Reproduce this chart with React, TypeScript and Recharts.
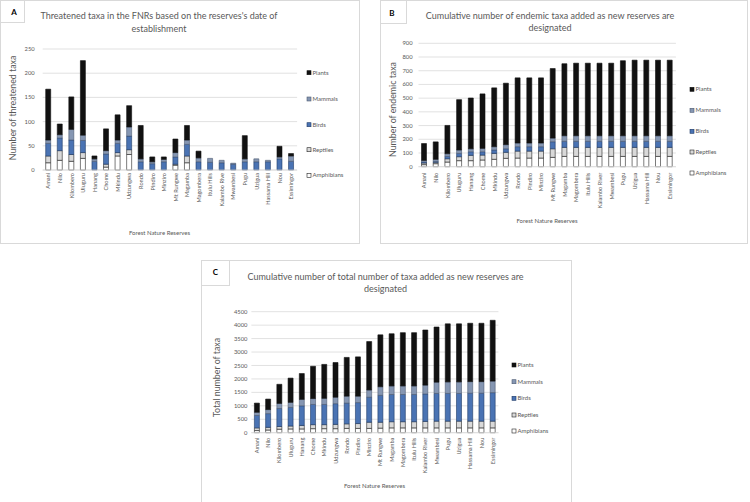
import React from 'react';
import { BarChart, Bar, XAxis, YAxis, CartesianGrid } from 'recharts';

// ---------- categories ----------
const reserves = ["Amani", "Nilo", "Kilombero", "Uluguru", "Hanang", "Chome", "Mkindu", "Udzungwa", "Rondo", "Pindiro", "Minziro", "Mt Rungwe", "Magamba", "Magombera", "Itulu Hills", "Kalambo River", "Mwambesi", "Pugu", "Uzigua", "Hassama Hill", "Nou", "Essimingor"];
const reservesA = ["Amani", "Nilo", "Kilombero", "Uluguru", "Hanang", "Chome", "Mkindu", "Udzungwa", "Rondo", "Pindiro", "Minziro", "Mt Rungwe", "Magamba", "Magombera", "Itulu Hills", "Kalambo Rive", "Mwambesi", "Pugu", "Uzigua", "Hassama Hill", "Nou", "Essimingor"];

const seriesNames = ["Amphibians", "Reptiles", "Birds", "Mammals", "Plants"];

// ---------- Panel A: threatened taxa ----------
const amphA = [15, 20, 18, 24, 0, 6, 29, 32, 0, 0, 0, 10, 15, 0, 0, 0, 0, 0, 0, 0, 0, 0];
const reptA = [14, 20, 14, 12, 0, 6, 7, 10, 0, 0, 0, 2, 14, 0, 0, 0, 0, 0, 0, 0, 0, 0];
const birdA = [26, 26, 30, 25, 18, 21, 19, 28, 17, 13, 17, 15, 24, 17, 16, 15, 12, 17, 17, 17, 23, 18];
const mammA = [7, 7, 22, 11, 5, 7, 7, 19, 6, 4, 5, 9, 9, 8, 8, 5, 2, 6, 6, 3, 4, 11];
const plantA = [105, 22, 67, 154, 6, 45, 52, 44, 69, 10, 5, 28, 30, 14, 0, 0, 0, 48, 0, 0, 22, 5];
const ticksA = [0, 50, 100, 150, 200, 250];

// ---------- Panel B: cumulative endemic taxa ----------
const amphB = [15, 22, 34, 44, 44, 49, 54, 61, 63, 63, 63, 68, 75, 75, 75, 75, 75, 75, 75, 75, 75, 75];
const reptB = [12, 10, 24, 29, 39, 36, 43, 44, 51, 51, 51, 63, 66, 66, 66, 66, 66, 66, 66, 66, 66, 66];
const birdB = [7, 7, 17, 24, 26, 24, 25, 26, 32, 32, 32, 51, 44, 44, 44, 44, 44, 44, 44, 44, 44, 44];
const mammB = [12, 15, 20, 25, 22, 25, 24, 30, 27, 27, 27, 27, 41, 41, 41, 41, 41, 41, 41, 41, 41, 41];
const plantB = [123, 127, 206, 367, 370, 397, 429, 448, 475, 475, 475, 507, 525, 529, 529, 529, 529, 547, 551, 551, 551, 551];
const ticksB = [0, 100, 200, 300, 400, 500, 600, 700, 800, 900];

// ---------- Panel C: cumulative total taxa ----------
const amphC = [80, 100, 130, 140, 140, 150, 150, 150, 160, 160, 160, 170, 180, 180, 180, 180, 180, 180, 180, 180, 180, 180];
const reptC = [100, 100, 100, 110, 130, 150, 150, 160, 170, 180, 230, 220, 230, 230, 230, 240, 250, 250, 250, 250, 250, 250];
const birdC = [460, 510, 670, 690, 730, 750, 750, 770, 770, 780, 930, 1000, 1010, 1010, 1010, 1020, 1030, 1030, 1030, 1040, 1040, 1060];
const mammC = [120, 150, 190, 190, 240, 220, 230, 240, 260, 240, 270, 320, 320, 320, 320, 330, 420, 430, 430, 430, 430, 430];
const plantC = [340, 390, 710, 900, 960, 1200, 1260, 1290, 1440, 1460, 1800, 1930, 1940, 1980, 1980, 2050, 2050, 2160, 2160, 2170, 2170, 2260];
const ticksC = [0, 500, 1000, 1500, 2000, 2500, 3000, 3500, 4000, 4500];

// ---------- styles ----------
const FONT = 'Lato, "Liberation Sans", sans-serif';
const TEXT = '#595959';
const GRID = '#d9d9d9';
const fills: Record<string, string> = { Amphibians: '#ffffff', Reptiles: '#d9d9d9', Birds: '#4a73b3', Mammals: '#8596b2', Plants: '#111111' };
const strokes: Record<string, string> = { Amphibians: '#222222', Reptiles: '#222222', Birds: '#1f3a66', Mammals: '#4d5b72', Plants: '#111111' };

const buildRows = (names: string[], a: number[], r: number[], b: number[], m: number[], p: number[]) =>
  names.map((name, i) => ({ name, Amphibians: a[i], Reptiles: r[i], Birds: b[i], Mammals: m[i], Plants: p[i] }));

const rowsA = buildRows(reservesA, amphA, reptA, birdA, mammA, plantA);
const rowsB = buildRows(reserves, amphB, reptB, birdB, mammB, plantB);
const rowsC = buildRows(reserves, amphC, reptC, birdC, mammC, plantC);

const XTick = (props: any) => {
  const { x, y, payload } = props;
  return (
    <text x={x} y={y} transform={`rotate(-90 ${x} ${y})`} textAnchor="end" dy="0.35em"
      fontSize={5.6} fill={TEXT} fontFamily={FONT}>{payload.value}</text>
  );
};

type Cfg = {
  key: string;
  letter: string;
  box: { x: number; y: number; w: number; h: number };
  letterBox: { w: number; h: number; cx: number; by: number };
  plot: { l: number; r: number; t: number; b: number };
  ticks: number[];
  rows: any[];
  yGap: number;
  xGap: number;
  title: string[];
  titleCx: number;
  titleY: number[];
  yLabel: string;
  yLabelX: number;
  yLabelCy: number;
  xTitleCx: number;
  xTitleY: number;
  legX: number;
  legY: number[];
};

const panels: Cfg[] = [
  {
    key: 'A', letter: 'A', box: { x: 0, y: 0, w: 360, h: 244 }, letterBox: { w: 24, h: 22, cx: 14, by: 15 },
    plot: { l: 42.7, r: 297.1, t: 49, b: 170 }, ticks: ticksA, rows: rowsA, yGap: 8, xGap: 3,
    title: ["Threatened taxa in the FNRs based on the reserves's date of", 'establishment'], titleCx: 159, titleY: [19, 31.5],
    yLabel: 'Number of threatened taxa', yLabelX: 16, yLabelCy: 108,
    xTitleCx: 159.5, xTitleY: 235, legX: 307, legY: [72.7, 99, 124.7, 149.7, 175.3],
  },
  {
    key: 'B', letter: 'B', box: { x: 380, y: 0, w: 368, h: 244 }, letterBox: { w: 26, h: 23, cx: 392, by: 16 },
    plot: { l: 418.5, r: 675.9, t: 43.3, b: 166.7 }, ticks: ticksB, rows: rowsB, yGap: 6, xGap: 6,
    title: ['Cumulative number of endemic taxa added as new reserves are', 'designated'], titleCx: 550, titleY: [19, 30.5],
    yLabel: 'Number of endemic taxa', yLabelX: 396, yLabelCy: 109.5,
    xTitleCx: 547, xTitleY: 223, legX: 690, legY: [89.3, 110.3, 131.3, 152, 173],
  },
  {
    key: 'C', letter: 'C', box: { x: 201, y: 260, w: 371, h: 244 }, letterBox: { w: 28, h: 25, cx: 215.5, by: 275 },
    plot: { l: 251.4, r: 498.4, t: 311.7, b: 432.7 }, ticks: ticksC, rows: rowsC, yGap: 4, xGap: 5,
    title: ['Cumulative number of total number of taxa added as new reserves are', 'designated'], titleCx: 385.5, titleY: [280, 291.5],
    yLabel: 'Total number of taxa', yLabelX: 219.7, yLabelCy: 377.5,
    xTitleCx: 374.5, xTitleY: 487.5, legX: 512, legY: [365, 381.7, 398.3, 415, 431],
  },
];

const legendOrder = ['Plants', 'Mammals', 'Birds', 'Reptiles', 'Amphibians'];

function PanelChart({ c }: { c: Cfg }) {
  const { box, plot } = c;
  const max = c.ticks[c.ticks.length - 1];
  return (
    <div style={{ position: 'absolute', left: box.x, top: box.y, width: box.w, height: box.h }}>
      <BarChart
        width={box.w}
        height={box.h}
        data={c.rows}
        margin={{ top: plot.t - box.y, right: box.x + box.w - plot.r, left: 0, bottom: 0 }}
        barSize={5}
      >
        <CartesianGrid vertical={false} stroke={GRID} strokeWidth={0.8} />
        <XAxis
          dataKey="name"
          interval={0}
          height={box.y + box.h - plot.b}
          tickLine={false}
          tickSize={0}
          tickMargin={c.xGap}
          axisLine={{ stroke: GRID, strokeWidth: 0.8 }}
          tick={<XTick />}
        />
        <YAxis
          type="number"
          domain={[0, max]}
          ticks={c.ticks}
          interval={0}
          width={plot.l - box.x}
          tickLine={false}
          axisLine={false}
          tickSize={0}
          tickMargin={c.yGap}
          tick={{ fontSize: 5.8, fill: TEXT, fontFamily: FONT }}
        />
        {seriesNames.map((s) => (
          <Bar key={s} dataKey={s} stackId="s" fill={fills[s]} stroke={strokes[s]} strokeWidth={0.6} isAnimationActive={false} />
        ))}
      </BarChart>
    </div>
  );
}

function Overlay() {
  return (
    <svg width={750} height={502} style={{ position: 'absolute', left: 0, top: 0, pointerEvents: 'none' }}>
      {panels.map((c) => (
        <g key={c.key} fontFamily={FONT}>
          <rect x={c.box.x + 0.5} y={c.box.y + 0.5} width={c.box.w - 1} height={c.box.h - 1} fill="none" stroke={GRID} strokeWidth={1} />
          <rect x={c.box.x + 0.5} y={c.box.y + 0.5} width={c.letterBox.w} height={c.letterBox.h} fill="#fff" stroke={GRID} strokeWidth={1} />
          <text x={c.letterBox.cx} y={c.letterBox.by} textAnchor="middle" fontSize={8} fontWeight="bold" fill="#000">{c.letter}</text>
          {c.title.map((t, i) => (
            <text key={i} x={c.titleCx} y={c.titleY[i]} textAnchor="middle" fontSize={9} fill={TEXT}>{t}</text>
          ))}
          <text x={c.yLabelX} y={c.yLabelCy} transform={`rotate(-90 ${c.yLabelX} ${c.yLabelCy})`} textAnchor="middle" fontSize={8.8} fill={TEXT}>{c.yLabel}</text>
          <text x={c.xTitleCx} y={c.xTitleY} textAnchor="middle" fontSize={6} fill={TEXT}>Forest Nature Reserves</text>
          {legendOrder.map((s, i) => (
            <g key={s}>
              <rect x={c.legX} y={c.legY[i] - 2} width={4} height={4} fill={fills[s]} stroke={strokes[s]} strokeWidth={0.6} />
              <text x={c.legX + 5.5} y={c.legY[i] + 2} fontSize={6} fill={TEXT}>{s}</text>
            </g>
          ))}
        </g>
      ))}
    </svg>
  );
}

export default function App() {
  return (
    <div style={{ position: 'absolute', left: 0, top: 0, width: 750, height: 502, background: '#fff', overflow: 'hidden' }}>
      {panels.map((c) => (
        <PanelChart key={c.key} c={c} />
      ))}
      <Overlay />
    </div>
  );
}
